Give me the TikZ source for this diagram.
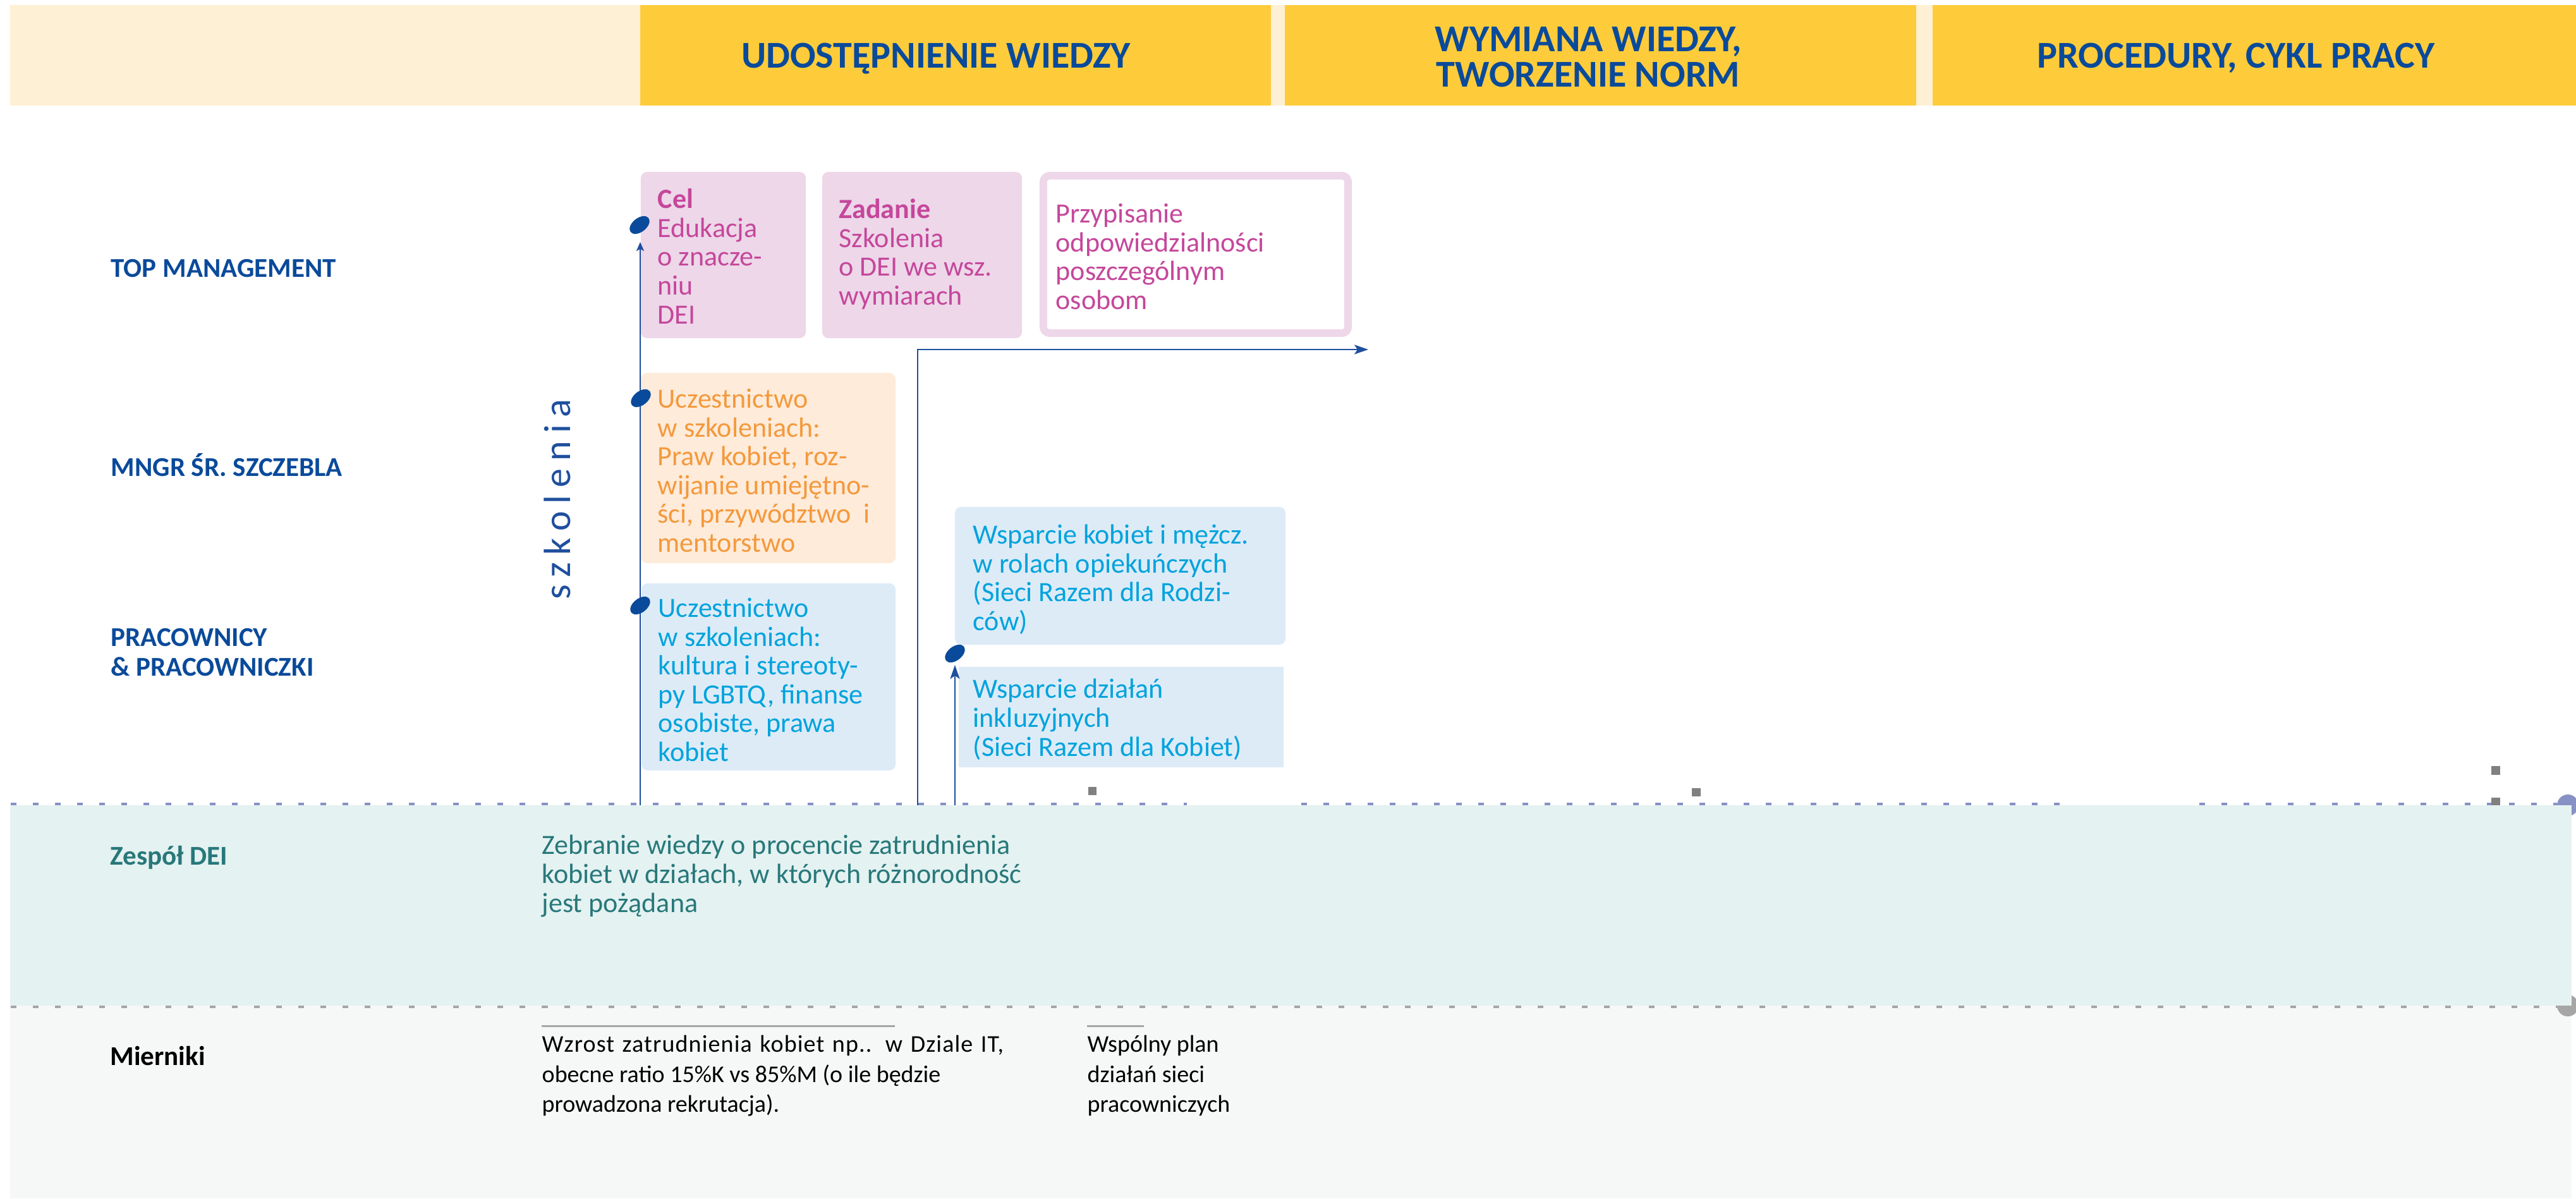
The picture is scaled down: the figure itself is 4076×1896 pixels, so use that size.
\documentclass[tikz,border=0pt]{standalone}
\usepackage{fontspec}
\setmainfont{Carlito}
\usetikzlibrary{arrows.meta,shapes.geometric}

\definecolor{navy}{HTML}{0A4A9A}
\definecolor{flowblue}{HTML}{1F4F9E}
\definecolor{hdryellow}{HTML}{FECC3B}
\definecolor{hdrpale}{HTML}{FEF0D4}
\definecolor{pinkfill}{HTML}{EDD7E9}
\definecolor{pinktext}{HTML}{C5479B}
\definecolor{orangefill}{HTML}{FEEBDA}
\definecolor{orangetext}{HTML}{F4993C}
\definecolor{bluefill}{HTML}{DDEBF7}
\definecolor{bluetext}{HTML}{00A3DD}
\definecolor{tealtext}{HTML}{28787A}
\definecolor{deifill}{HTML}{E4F2F1}
\definecolor{measfill}{HTML}{F6F8F7}
\definecolor{dotblue}{HTML}{8791C4}
\definecolor{dotgrey}{HTML}{A6A6A6}
\definecolor{tickgrey}{HTML}{808080}

% font sizes given in pixel units of the drawing (1px = 0.01cm)
\newcommand{\hdrfont}{\fontsize{17.07pt}{15.65pt}\selectfont\bfseries}
\newcommand{\rowfont}{\fontsize{12.23pt}{13.37pt}\selectfont\bfseries}
\newcommand{\boxfont}{\fontsize{12.52pt}{12.95pt}\selectfont}
\newcommand{\measfont}{\fontsize{10.81pt}{13.37pt}\selectfont}

% multi-line nodes are anchored at the baseline of their last line
\tikzset{
  band/.style={rectangle, inner sep=0pt, outer sep=0pt, draw=none},
  card/.style={rectangle, inner sep=0pt, outer sep=0pt, draw=none, rounded corners=1mm},
  hdrtext/.style={anchor=base, inner sep=0pt, text=navy, font=\hdrfont, align=center},
  rowlabel/.style={anchor=base west, inner sep=0pt, text=navy, font=\rowfont, align=left},
  cardtext/.style={anchor=base west, inner sep=0pt, font=\boxfont, align=left},
  meastext/.style={anchor=base west, inner sep=0pt, font=\measfont, align=left, text=black},
  milestone/.style={ellipse, fill=navy, draw=none, inner sep=0pt,
    minimum width=3.6mm, minimum height=2.2mm, rotate=38},
  flow/.style={draw=flowblue, line width=0.25mm},
  flowarrow/.style={flow, -{Stealth[length=2.2mm, width=1.5mm, inset=0.5mm]}},
  smallarrow/.style={flow, -{Stealth[length=1.4mm, width=1.2mm, inset=0.3mm]}},
  laneline/.style={line width=0.8mm, dash pattern=on 0.9mm off 2.6mm},
}

\begin{document}
\begin{tikzpicture}[x=0.01cm, y=-0.01cm]
\useasboundingbox (0,0) rectangle (4076,1896);

% ---------- header ----------
\node[band, fill=hdrpale, minimum width=40.59cm, minimum height=1.59cm] (hdrbg) at (2046.5,87.5) {};
\node[band, fill=hdryellow, minimum width=9.98cm, minimum height=1.59cm] (hdr1) at (1512,87.5) {};
\node[band, fill=hdryellow, minimum width=9.99cm, minimum height=1.59cm] (hdr2) at (2532.5,87.5) {};
\node[band, fill=hdryellow, minimum width=10.18cm, minimum height=1.59cm] (hdr3) at (3567,87.5) {};
\node[hdrtext] (hdr1t) at (1481,107) {UDOSTĘPNIENIE WIEDZY};
\node[hdrtext] (hdr2t) at (2513,137) {WYMIANA WIEDZY,\\TWORZENIE NORM};
\node[hdrtext] (hdr3t) at (3538,107) {PROCEDURY, CYKL PRACY};

% ---------- lower lanes, dotted separators and end caps ----------
\node[band, fill=measfill, minimum width=40.51cm, minimum height=3.05cm] (measlane) at (2042.5,1743.5) {};
\fill[dotblue] (4063,1274) circle (17);
\fill[dotgrey] (4063,1591) circle (17);
\draw[laneline, draw=dotblue] (17,1274) -- (1878,1274);
\draw[laneline, draw=dotblue] (2059,1274) -- (3279,1274);
\draw[laneline, draw=dotblue] (3480,1274) -- (4046,1274);
\draw[laneline, draw=dotgrey] (17,1591) -- (4046,1591);
\node[band, fill=deifill, minimum width=40.51cm, minimum height=3.17cm] (deilane) at (2042.5,1432.5) {};

% small grey tick marks above the DEI lane
\fill[tickgrey] (1722,1245) rectangle (1735,1258);
\fill[tickgrey] (2677,1247) rectangle (2691,1260);
\fill[tickgrey] (3942,1212) rectangle (3956,1226);
\fill[tickgrey] (3942,1262) rectangle (3956,1274);

% ---------- row labels ----------
\node[rowlabel] (rtop) at (175,438) {TOP MANAGEMENT};
\node[rowlabel] (rmid) at (175,753) {MNGR ŚR. SZCZEBLA};
\node[rowlabel] (remp) at (175,1069) {PRACOWNICY\\\& PRACOWNICZKI};
\node[anchor=base west, inner sep=0pt, text=tealtext, font=\rowfont] (rdei) at (174,1368) {Zespół DEI};
\node[anchor=base west, inner sep=0pt, text=black, font=\rowfont] (rmeas) at (174,1685) {Mierniki};

\node[rotate=90, inner sep=0pt, text=flowblue,
      font={\fontsize{17.07pt}{18pt}\selectfont\addfontfeatures{LetterSpace=20}}] (szk) at (882,790) {szkolenia};

% ---------- cards ----------
\node[card, fill=pinkfill, minimum width=2.61cm, minimum height=2.63cm] (cel) at (1144.5,403.5) {};
\node[card, fill=pinkfill, minimum width=3.16cm, minimum height=2.63cm] (zad) at (1459,403.5) {};
\node[card, fill=white, draw=pinkfill, line width=1.2mm, minimum width=4.82cm, minimum height=2.49cm] (przyp) at (1892,402.5) {};
\node[card, fill=orangefill, minimum width=4.03cm, minimum height=3.01cm] (mgrcard) at (1215.5,740.5) {};
\node[card, fill=bluefill, minimum width=4.02cm, minimum height=2.96cm] (empcard) at (1216,1071) {};
\node[card, fill=bluefill, minimum width=5.23cm, minimum height=2.18cm] (care) at (1772.5,911) {};
\node[band, fill=bluefill, minimum width=5.14cm, minimum height=1.59cm] (incl) at (1774,1134.5) {};

\node[cardtext, text=pinktext] (celt) at (1040,512) {\textbf{Cel}\\Edukacja\\o znacze-\\niu\\DEI};
\node[cardtext, text=pinktext] (zadt) at (1327,482.5) {\textbf{Zadanie}\\Szkolenia\\o DEI we wsz.\\wymiarach};
\node[cardtext, text=pinktext] (przypt) at (1670,489.5) {Przypisanie\\odpowiedzialności\\poszczególnym\\osobom};
\node[cardtext, text=orangetext] (mgrt) at (1040,873.5) {Uczestnictwo\\w szkoleniach:\\Praw kobiet, roz-\\wijanie umiejętno-\\ści, przywództwo\ \ i\\mentorstwo};
\node[cardtext, text=bluetext] (empt) at (1041,1204.5) {Uczestnictwo\\w szkoleniach:\\kultura i stereoty-\\py LGBTQ, finanse\\osobiste, prawa\\kobiet};
\node[cardtext, text=bluetext] (caret) at (1539,997.5) {Wsparcie kobiet i mężcz.\\w rolach opiekuńczych\\(Sieci Razem dla Rodzi-\\ców)};
\node[cardtext, text=bluetext] (inclt) at (1539,1196) {Wsparcie działań\\inkluzyjnych\\(Sieci Razem dla Kobiet)};

% ---------- DEI team and measures ----------
\node[cardtext, text=tealtext] (deit) at (857,1443) {Zebranie wiedzy o procencie zatrudnienia\\kobiet w działach, w których różnorodność\\jest pożądana};
\draw[dotgrey, line width=0.3mm] (857,1623) -- (1416,1623);
\draw[dotgrey, line width=0.3mm] (1720,1623) -- (1810,1623);
\node[meastext] (meas1) at (857,1759) {\makebox[7.3cm][s]{\addfontfeatures{LetterSpace=3}Wzrost zatrudnienia kobiet np.. w Dziale IT,}\\obecne ratio 15\%K vs 85\%M (o ile będzie\\prowadzona rekrutacja).};
\node[meastext] (meas2) at (1720,1759) {Wspólny plan\\działań sieci\\pracowniczych};

% ---------- flows ----------
\coordinate (base1) at (1013,1274);
\coordinate (tip1) at (1013,383);
\coordinate (base2) at (1452,1274);
\coordinate (bend2) at (1452,553);
\coordinate (tip2) at (2165,553);
\coordinate (base3) at (1511,1274);
\coordinate (tip3) at (1511,1052);

\draw[smallarrow] (base1) -- (tip1);
\draw[flowarrow] (base2) -- (bend2) -- (tip2);
\draw[flowarrow] (base3) -- (tip3);

\node[milestone] (m1) at (1012,356) {};
\node[milestone] (m2) at (1014,630) {};
\node[milestone] (m3) at (1013,958) {};
\node[milestone] (m4) at (1511,1034) {};
\end{tikzpicture}
\end{document}
